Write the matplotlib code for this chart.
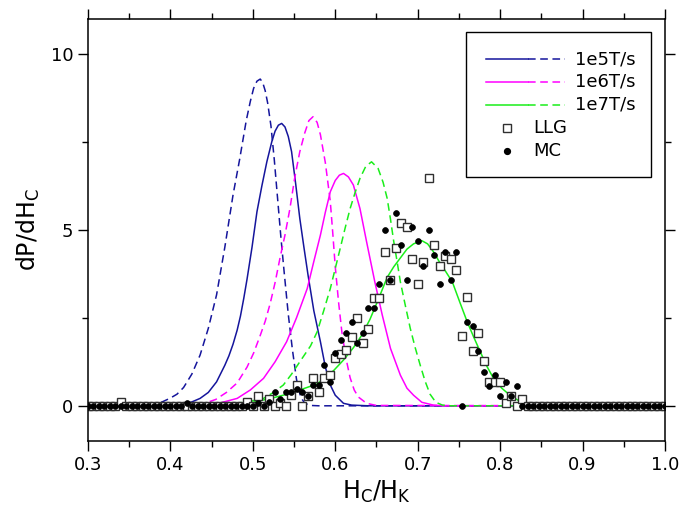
import matplotlib
matplotlib.use("Agg")
import matplotlib.pyplot as plt
import numpy as np
from matplotlib.patches import Rectangle
from matplotlib.ticker import MultipleLocator

# ------------------------------------------------------------
# model curves
# ------------------------------------------------------------
x_1e5_dash = [0.30, 0.36, 0.38, 0.39, 0.40, 0.408, 0.416, 0.426, 0.436, 0.446, 0.456, 0.466,
              0.476, 0.484, 0.492, 0.497, 0.501, 0.505, 0.509, 0.512, 0.515, 0.518, 0.522,
              0.526, 0.530, 0.534, 0.538, 0.543, 0.548, 0.553, 0.558, 0.563, 0.570, 0.58, 1.0]
y_1e5_dash = [0.0, 0.01, 0.05, 0.11, 0.22, 0.33, 0.52, 0.90, 1.44, 2.20, 3.15, 4.50,
              5.99, 7.00, 8.10, 8.65, 9.02, 9.22, 9.28, 9.18, 8.95, 8.60, 7.95,
              7.00, 5.90, 4.80, 3.80, 2.60, 1.60, 0.75, 0.25, 0.07, 0.01, 0.0, 0.0]

x_1e5_solid = [0.30, 0.40, 0.416, 0.426, 0.436, 0.446, 0.456, 0.466, 0.471, 0.476, 0.481,
               0.485, 0.489, 0.493, 0.499, 0.505, 0.511, 0.517, 0.523, 0.527, 0.531,
               0.535, 0.539, 0.543, 0.547, 0.552, 0.557, 0.562, 0.567, 0.574, 0.582,
               0.588, 0.594, 0.600, 0.610, 0.620, 0.64, 1.0]
y_1e5_solid = [0.0, 0.01, 0.05, 0.11, 0.21, 0.38, 0.68, 1.15, 1.42, 1.75, 2.15,
               2.55, 3.05, 3.60, 4.50, 5.51, 6.25, 6.93, 7.50, 7.80, 7.97,
               8.02, 7.92, 7.65, 7.22, 6.30, 5.32, 4.50, 3.71, 2.70, 1.82,
               1.10, 0.59, 0.30, 0.07, 0.02, 0.0, 0.0]

x_1e6_dash = [0.30, 0.42, 0.44, 0.455, 0.468, 0.481, 0.493, 0.501, 0.509, 0.515, 0.521,
              0.527, 0.533, 0.539, 0.545, 0.551, 0.557, 0.563, 0.568, 0.573, 0.578,
              0.582, 0.588, 0.594, 0.597, 0.600, 0.604, 0.608, 0.613, 0.618, 0.623,
              0.628, 0.638, 0.65, 1.0]
y_1e6_dash = [0.0, 0.01, 0.06, 0.18, 0.38, 0.65, 1.10, 1.50, 2.00, 2.40, 2.90,
              3.50, 4.20, 4.85, 5.60, 6.50, 7.22, 7.75, 8.10, 8.21, 8.05,
              7.70, 6.90, 5.80, 4.90, 3.95, 2.95, 2.10, 1.35, 0.80, 0.45,
              0.25, 0.07, 0.01, 0.0]

x_1e6_solid = [0.30, 0.44, 0.46, 0.481, 0.497, 0.513, 0.527, 0.541, 0.553, 0.566, 0.574,
               0.582, 0.588, 0.594, 0.600, 0.605, 0.610, 0.616, 0.622, 0.630, 0.638,
               0.648, 0.657, 0.667, 0.679, 0.687, 0.695, 0.705, 0.719, 0.73, 1.0]
y_1e6_solid = [0.0, 0.02, 0.08, 0.21, 0.45, 0.78, 1.25, 1.82, 2.50, 3.33, 4.10,
               4.85, 5.50, 6.08, 6.40, 6.55, 6.60, 6.50, 6.27, 5.60, 4.66,
               3.52, 2.58, 1.63, 0.87, 0.50, 0.30, 0.10, 0.02, 0.0, 0.0]

x_1e7_dash = [0.30, 0.46, 0.48, 0.497, 0.513, 0.525, 0.537, 0.547, 0.557, 0.570, 0.578,
              0.586, 0.594, 0.600, 0.606, 0.612, 0.618, 0.624, 0.630, 0.637, 0.644,
              0.652, 0.658, 0.663, 0.667, 0.671, 0.675, 0.679, 0.685, 0.691, 0.697,
              0.703, 0.709, 0.715, 0.722, 0.730, 0.74, 1.0]
y_1e7_dash = [0.0, 0.02, 0.07, 0.13, 0.21, 0.38, 0.59, 0.90, 1.25, 1.70, 2.10,
              2.70, 3.33, 3.90, 4.47, 5.05, 5.60, 6.05, 6.46, 6.80, 6.93,
              6.74, 6.35, 5.89, 5.30, 4.66, 4.10, 3.52, 2.85, 2.20, 1.65,
              1.16, 0.70, 0.33, 0.10, 0.02, 0.0, 0.0]

x_1e7_solid = [0.30, 0.45, 0.50, 0.52, 0.54, 0.557, 0.578, 0.590, 0.598, 0.610, 0.622,
               0.632, 0.642, 0.651, 0.657, 0.663, 0.671, 0.679, 0.687, 0.695, 0.705,
               0.712, 0.719, 0.726, 0.733, 0.742, 0.751, 0.760, 0.768, 0.776, 0.784,
               0.792, 0.802, 0.812, 0.825, 0.835, 0.85, 1.0]
y_1e7_solid = [0.0, 0.02, 0.10, 0.20, 0.32, 0.45, 0.62, 0.85, 1.00, 1.30, 1.65,
               2.00, 2.45, 2.95, 3.30, 3.65, 3.95, 4.20, 4.45, 4.60, 4.69,
               4.60, 4.38, 4.10, 3.85, 3.52, 2.95, 2.39, 1.95, 1.53, 1.12,
               0.78, 0.50, 0.30, 0.11, 0.03, 0.0, 0.0]

# ------------------------------------------------------------
# simulation points, sampled on a grid of H_C/H_K = 0.3 + k/150
# ------------------------------------------------------------
h_grid = 0.3 + np.arange(106) / 150.0

llg = [0.0, 0.0, 0.0, 0.0, 0.0, 0.0, 0.11, 0.0, 0.0, 0.0,      # k 0-9
       0.0, 0.0, 0.0, 0.0, 0.0, 0.0, 0.0, 0.0, 0.0, 0.0,       # 10-19
       0.0, 0.0, 0.0, 0.0, 0.0, 0.0, 0.0, 0.0, 0.0, 0.11,      # 20-29
       0.0, 0.28, 0.0, 0.19, 0.0, 0.07, 0.0, 0.30, 0.59, 0.0,  # 30-39
       0.28, 0.78, 0.38, 0.78, 0.87, 1.37, 1.48, 1.58, 1.96, 2.48,  # 40-49
       1.77, 2.17, 3.07, 3.07, 4.38, 3.57, 4.47, 5.18, 5.08, 4.17,  # 50-59
       3.47, 4.09, 6.48, 4.56, 3.98, 4.26, 4.17, 3.87, 1.97, 3.08,  # 60-69
       1.57, 2.06, 1.27, 0.67, 0.67, 0.67, 0.08, 0.28, 0.0, 0.18,   # 70-79
       0.0, 0.0, 0.0, 0.0, 0.0, 0.0, 0.0, 0.0, 0.0, 0.0,       # 80-89
       0.0, 0.0, 0.0, 0.0, 0.0, 0.0, 0.0, 0.0, 0.0, 0.0,       # 90-99
       0.0, 0.0, 0.0, 0.0, 0.0, 0.0]                           # 100-105

mc = [0.0, 0.0, 0.0, 0.0, 0.0, 0.0, 0.0, 0.0, 0.0, 0.0,        # k 0-9
      0.0, 0.0, 0.0, 0.0, 0.0, 0.0, 0.0, 0.0, 0.08, 0.0,        # 10-19
      0.0, 0.0, 0.0, 0.0, 0.0, 0.0, 0.0, 0.0, 0.0, 0.0,         # 20-29
      0.0, 0.07, 0.0, 0.11, 0.38, 0.18, 0.38, 0.38, 0.47, 0.38,  # 30-39
      0.28, 0.59, 0.59, 1.17, 0.68, 1.49, 1.88, 2.08, 2.39, 1.77,  # 40-49
      2.06, 2.77, 2.77, 3.47, 4.98, 3.58, 5.48, 4.58, 3.58, 5.08,  # 50-59
      4.68, 3.97, 4.98, 4.28, 3.47, 4.38, 3.58, 4.38, 0.0, 2.38,   # 60-69
      2.27, 1.57, 0.97, 0.57, 0.87, 0.28, 0.67, 0.28, 0.57, 0.0,   # 70-79
      0.0, 0.0, 0.0, 0.0, 0.0, 0.0, 0.0, 0.0, 0.0, 0.0,         # 80-89
      0.0, 0.0, 0.0, 0.0, 0.0, 0.0, 0.0, 0.0, 0.0, 0.0,         # 90-99
      0.0, 0.0, 0.0, 0.0, 0.0, 0.0]                             # 100-105

rate_labels = ["1e5T/s", "1e6T/s", "1e7T/s"]
c_blue = "#15159c"
c_mag = "#ff00ff"
c_green = "#1aee1a"

plt.rcParams["font.family"] = "DejaVu Sans"

fig = plt.figure(figsize=(6.83, 5.14), dpi=100)
ax = fig.add_axes([0.1288, 0.142, 0.8448, 0.822])

dash = (0, (5, 3))
lw = 1.1
ax.plot(x_1e5_solid, y_1e5_solid, color=c_blue, lw=lw)
ax.plot(x_1e5_dash, y_1e5_dash, color=c_blue, lw=lw, ls=dash)
ax.plot(x_1e6_solid, y_1e6_solid, color=c_mag, lw=lw)
ax.plot(x_1e6_dash, y_1e6_dash, color=c_mag, lw=lw, ls=dash)
ax.plot(x_1e7_solid, y_1e7_solid, color=c_green, lw=lw)
ax.plot(x_1e7_dash, y_1e7_dash, color=c_green, lw=lw, ls=dash)

ax.plot(h_grid, llg, ls="none", marker="s", ms=5.2, mfc="white",
        mec="#303030", mew=1.0)
ax.plot(h_grid, mc, ls="none", marker="o", ms=4.2, mfc="black",
        mec="black", mew=0.5)

ax.set_xlim(0.3, 1.0)
ax.set_ylim(-1, 11)
ax.xaxis.set_minor_locator(MultipleLocator(0.05))
ax.yaxis.set_major_locator(MultipleLocator(5))
ax.yaxis.set_minor_locator(MultipleLocator(2.5))
ax.set_xticks(np.arange(3, 11) / 10)
ax.set_xticklabels(["0.3", "0.4", "0.5", "0.6", "0.7", "0.8", "0.9", "1.0"])
ax.tick_params(which="both", direction="out", top=True, right=True,
               labeltop=False, labelright=False, width=1.0, labelsize=13)
ax.tick_params(which="major", length=7)
ax.tick_params(which="minor", length=4)
for s in ax.spines.values():
    s.set_linewidth(1.1)

ax.set_xlabel(r"H$_\mathregular{C}$/H$_\mathregular{K}$", fontsize=17, labelpad=4)
ax.set_ylabel(r"dP/dH$_\mathregular{C}$", fontsize=17, labelpad=6)

# ------------------------------------------------------------
# hand-built legend (solid + dashed sample per rate)
# ------------------------------------------------------------
tr = ax.transAxes
ax.add_patch(Rectangle((0.655, 0.625), 0.321, 0.343, transform=tr,
                       fill=False, lw=1.0, ec="black", zorder=5))
rows = [0.903, 0.850, 0.796, 0.742, 0.686]
for yy, col, lab in zip(rows[:3], [c_blue, c_mag, c_green], rate_labels):
    ax.plot([0.690, 0.762], [yy, yy], color=col, lw=lw, transform=tr, zorder=6)
    ax.plot([0.762, 0.827], [yy, yy], color=col, lw=lw, ls=dash, transform=tr, zorder=6)
    ax.text(0.844, yy, lab, transform=tr, fontsize=13, va="center", zorder=6)
ax.plot([0.726], [rows[3]], marker="s", ms=5.2, mfc="white", mec="#303030",
        mew=1.0, transform=tr, zorder=6)
ax.text(0.771, rows[3], "LLG", transform=tr, fontsize=13, va="center", zorder=6)
ax.plot([0.726], [rows[4]], marker="o", ms=4.2, mfc="black", mec="black",
        transform=tr, zorder=6)
ax.text(0.771, rows[4], "MC", transform=tr, fontsize=13, va="center", zorder=6)

fig.savefig("out.png", dpi=100)
